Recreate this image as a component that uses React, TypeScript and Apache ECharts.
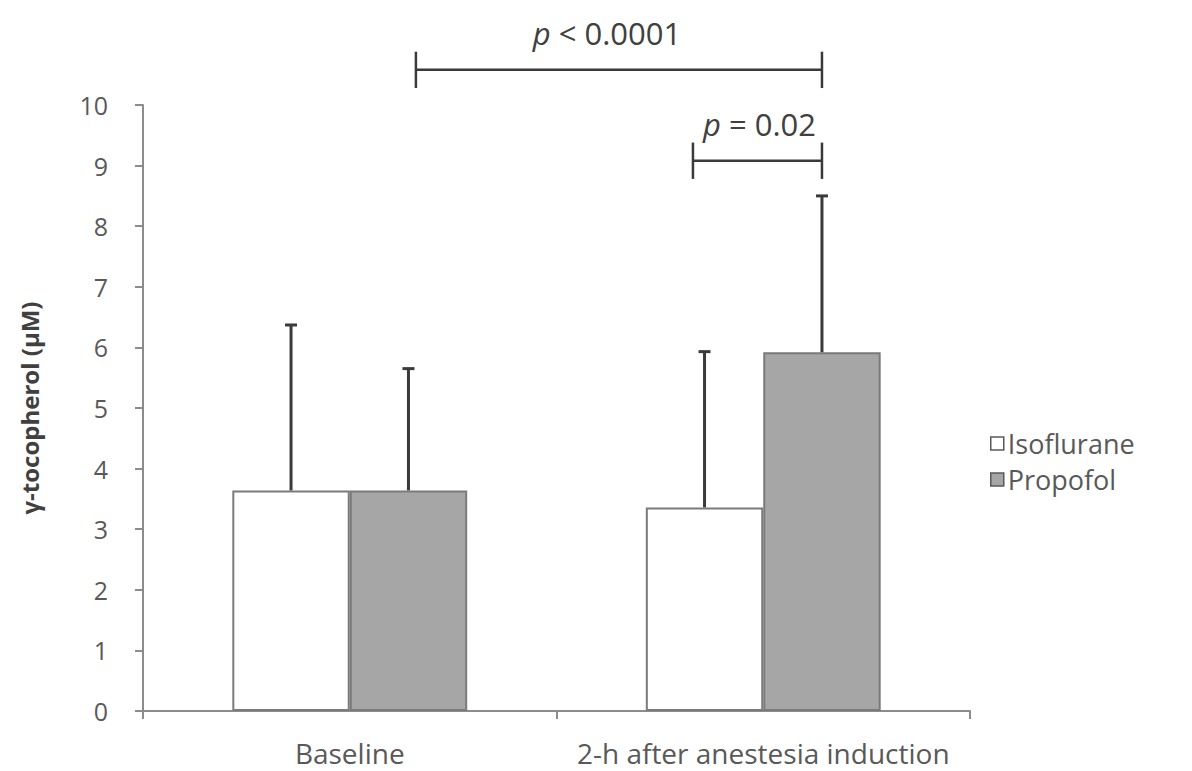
import React, { useEffect, useRef } from "react";
import * as echarts from "echarts";

const categories = ["Baseline", "2-h after anestesia induction"];
const seriesNames = ["Isoflurane", "Propofol"];
const isofluraneMean = [3.64, 3.36];
const isofluraneSD = [2.73, 2.57];
const propofolMean = [3.64, 5.92];
const propofolSD = [2.01, 2.58];
const yTicks = [0, 10, 1]; // min, max, interval

// significance brackets: positions in category units (relative to first category center) and y values
const sigFrom = [0.16, 0.83];
const sigTo = [1.142, 1.142];
const sigLineY = [10.58, 9.08];
const sigLabels = ["p < 0.0001", "p = 0.02"];
const sigLabelShift = [-12, 2];

const BAR_FRAC = 0.284;
const FONT = "'Open Sans', 'Liberation Sans', sans-serif";

export default function App() {
  const ref = useRef<HTMLDivElement>(null);
  useEffect(() => {
    if (!ref.current) return;
    const chart = echarts.init(ref.current, undefined, { renderer: "svg" });
    const errData: number[][] = [];
    for (let i = 0; i < categories.length; i++) {
      errData.push([i, isofluraneMean[i], isofluraneSD[i], -1]);
      errData.push([i, propofolMean[i], propofolSD[i], 1]);
    }
    chart.setOption({
      animation: false,
      backgroundColor: "#ffffff",
      textStyle: { fontFamily: FONT },
      grid: { left: 143, right: 222, top: 105, bottom: 60, containLabel: false },
      legend: {
        data: seriesNames,
        orient: "vertical",
        left: 985,
        top: 425,
        icon: "rect",
        itemWidth: 13,
        itemHeight: 13,
        itemGap: 9,
        textStyle: { fontSize: 27, color: "#595959", fontFamily: FONT, padding: [0, 0, 0, -1] },
        itemStyle: { borderColor: "#595959", borderWidth: 1.5 },
      },
      xAxis: {
        type: "category",
        data: categories,
        axisLine: { lineStyle: { color: "#8c8c8c", width: 2 } },
        axisTick: { show: true, length: 8, lineStyle: { color: "#8c8c8c", width: 2 } },
        axisLabel: { interval: 0, fontSize: 28, color: "#595959", margin: 28, fontFamily: FONT },
      },
      yAxis: {
        type: "value",
        min: yTicks[0],
        max: yTicks[1],
        interval: yTicks[2],
        name: "γ-tocopherol (μM)",
        nameLocation: "middle",
        nameGap: 102,
        nameRotate: 90,
        nameTextStyle: { fontSize: 24, fontWeight: "bold", color: "#404040", fontFamily: FONT },
        axisLine: { show: true, lineStyle: { color: "#8c8c8c", width: 2 } },
        axisTick: { show: true, length: 8, lineStyle: { color: "#8c8c8c", width: 2 } },
        splitLine: { show: false },
        axisLabel: { fontSize: 25, color: "#595959", margin: 35, fontFamily: FONT },
      },
      series: [
        {
          name: seriesNames[0],
          type: "bar",
          data: isofluraneMean,
          barWidth: BAR_FRAC * 100 + "%",
          barGap: "0%",
          itemStyle: { color: "#ffffff", borderColor: "#7a7a7a", borderWidth: 2 },
        },
        {
          name: seriesNames[1],
          type: "bar",
          data: propofolMean,
          barWidth: BAR_FRAC * 100 + "%",
          barGap: "0%",
          itemStyle: { color: "#a6a6a6", borderColor: "#7a7a7a", borderWidth: 2 },
        },
        {
          name: "error",
          type: "custom",
          z: 5,
          data: errData,
          encode: { x: 0, y: 1 },
          renderItem: (params: any, api: any) => {
            const idx = api.value(0);
            const mean = api.value(1);
            const sd = api.value(2);
            const side = api.value(3);
            const base = api.coord([idx, mean]);
            const top = api.coord([idx, mean + sd]);
            const bandW = api.size([1, 0])[0];
            const x = base[0] + (side * bandW * BAR_FRAC) / 2;
            const st = { stroke: "#3a3a3a", lineWidth: 3 };
            return {
              type: "group",
              children: [
                { type: "line", shape: { x1: x, y1: base[1], x2: x, y2: top[1] }, style: st },
                { type: "line", shape: { x1: x - 6, y1: top[1], x2: x + 6, y2: top[1] }, style: st },
              ],
            };
          },
        },
      ],
    });

    const p0 = chart.convertToPixel({ xAxisIndex: 0, yAxisIndex: 0 }, [0, 0]) as number[];
    const p1 = chart.convertToPixel({ xAxisIndex: 0, yAxisIndex: 0 }, [1, 0]) as number[];
    const band = p1[0] - p0[0];
    const yPx = (v: number) => (chart.convertToPixel({ yAxisIndex: 0 }, v) as number);
    const unit = yPx(0) - yPx(1);
    const elems: any[] = [];
    const lineStyle = { stroke: "#3a3a3a", lineWidth: 2.5 };
    for (let k = 0; k < sigLabels.length; k++) {
      const xa = p0[0] + sigFrom[k] * band;
      const xb = p0[0] + sigTo[k] * band;
      const y = yPx(sigLineY[k]);
      const tick = unit * 0.3;
      elems.push({ type: "line", shape: { x1: xa, y1: y, x2: xb, y2: y }, style: lineStyle });
      elems.push({ type: "line", shape: { x1: xa, y1: y - tick, x2: xa, y2: y + tick }, style: lineStyle });
      elems.push({ type: "line", shape: { x1: xb, y1: y - tick, x2: xb, y2: y + tick }, style: lineStyle });
      const parts = sigLabels[k].split(" ");
      elems.push({
        type: "text",
        x: (xa + xb) / 2 + sigLabelShift[k],
        y: y - unit * 0.6,
        style: {
          text: "{i|" + parts[0] + "} " + parts.slice(1).join(" "),
          rich: {
            i: { fontStyle: "italic", fontSize: 31, fill: "#404040", fontFamily: FONT },
          },
          fontSize: 31,
          fill: "#404040",
          fontFamily: FONT,
          align: "center",
          verticalAlign: "middle",
        },
      });
    }
    chart.setOption({ graphic: { elements: elems } });
    return () => chart.dispose();
  }, []);
  return (
    <div
      ref={ref}
      style={{ position: "fixed", left: 0, top: 0, width: 1192, height: 771, background: "#fff" }}
    />
  );
}
